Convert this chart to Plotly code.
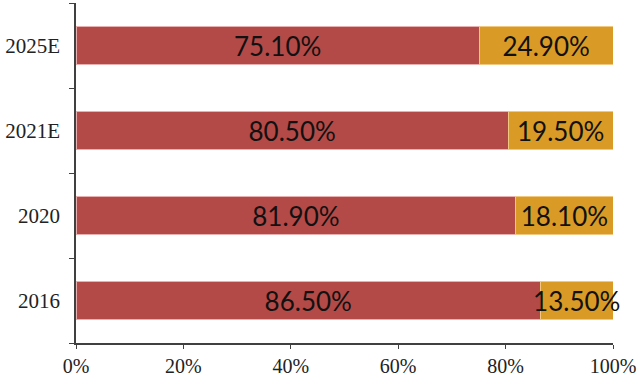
import plotly.graph_objects as go

categories = ["2016", "2020", "2021E", "2025E"]
share_a = [86.5, 81.9, 80.5, 75.1]
share_b = [13.5, 18.1, 19.5, 24.9]
x_ticks = [0, 20, 40, 60, 80, 100]
x_tick_labels = ["0%", "20%", "40%", "60%", "80%", "100%"]

fig = go.Figure()
fig.add_trace(go.Bar(
    y=categories, x=share_a, orientation="h",
    marker=dict(color="#B34A47", line=dict(color="#E8B0AE", width=1)),
    text=[f"{v:.2f}%" for v in share_a],
    textposition="inside", insidetextanchor="middle", constraintext="none",
    textfont=dict(family="Lato", size=26, color="#111111"),
    cliponaxis=False,
    showlegend=False, hoverinfo="skip",
))
fig.add_trace(go.Bar(
    y=categories, x=share_b, orientation="h",
    marker=dict(color="#DA9A26", line=dict(color="#F0C880", width=1)),
    text=[f"{v:.2f}%" for v in share_b],
    textposition="inside", insidetextanchor="middle", constraintext="none",
    textfont=dict(family="Lato", size=26, color="#111111"),
    cliponaxis=False,
    showlegend=False, hoverinfo="skip",
))

fig.update_layout(
    barmode="stack", bargap=0.56,
    width=640, height=377,
    margin=dict(l=76, r=27, t=3, b=34, autoexpand=False),
    plot_bgcolor="white", paper_bgcolor="white",
)
fig.update_xaxes(
    range=[0, 100], tickvals=x_ticks, ticktext=x_tick_labels,
    showgrid=False, zeroline=False, automargin=False,
    showline=True, linecolor="#404040", linewidth=1.5,
    ticks="outside", ticklen=4, tickcolor="#404040",
    tickfont=dict(family="Liberation Serif", size=20, color="#222222"),
)
fig.update_yaxes(
    type="category", categoryorder="array", categoryarray=categories,
    tickson="boundaries", automargin=False,
    showgrid=False, zeroline=False,
    showline=True, linecolor="#404040", linewidth=1.5,
    ticks="outside", ticklen=5, tickcolor="#404040",
    ticklabelstandoff=10,
    tickfont=dict(family="Liberation Serif", size=21, color="#222222"),
)

fig.write_html("out.html", config={"displayModeBar": False},
               post_script="document.body.style.margin='0px';")
